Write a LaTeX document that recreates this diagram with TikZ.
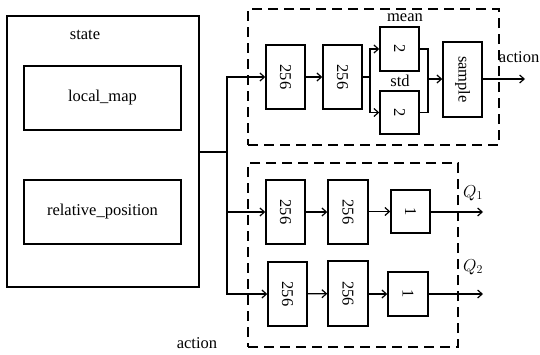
\documentclass[tikz,border=0pt]{standalone}
\usepackage{fontspec}
\setmainfont{Liberation Serif}
\usetikzlibrary{arrows.meta}
\begin{document}
\begin{tikzpicture}[x=1pt,y=-1pt,
  font=\fontsize{16.5}{19}\selectfont,
  blk/.style={draw,line width=1.4pt,inner sep=0pt},
  layer/.style={blk,minimum width=39pt,minimum height=64pt},
  grp/.style={draw,line width=1.5pt,dash pattern=on 10pt off 6pt},
  link/.style={line width=1.2pt},
  arr/.style={link,-{Straight Barb[length=4.5pt,width=8pt]}},
  lbl/.style={inner sep=0pt}]
\useasboundingbox (0,0) rectangle (540,354);

% state input block
\node[blk,minimum width=192pt,minimum height=271pt] (state) at (103,151.5) {};
\node[lbl] (statelbl) at (85,35) {state};
\node[blk,minimum width=157pt,minimum height=64pt] (lmap) at (102.5,98) {local\_map};
\node[blk,minimum width=157pt,minimum height=64pt] (rpos) at (102.5,212) {relative\_position};

% actor group
\node[grp,minimum width=251pt,minimum height=136pt] (actor) at (373.5,77) {};
\node[layer] (a1) at (285.5,77) {\rotatebox{-90}{256}};
\node[layer] (a2) at (342.5,77) {\rotatebox{-90}{256}};
\node[blk,minimum width=39pt,minimum height=44pt] (mean) at (399.5,49) {\rotatebox{-90}{2}};
\node[blk,minimum width=39pt,minimum height=43pt] (std) at (399.5,112.5) {\rotatebox{-90}{2}};
\node[lbl] (meanlbl) at (405,18) {mean};
\node[lbl] (stdlbl) at (400,81) {std};
\node[blk,minimum width=39pt,minimum height=75pt] (sample) at (462.5,79.5) {\rotatebox{-90}{sample}};
\node[lbl,anchor=east] (actlbl) at (539.5,57) {action};

% critic group
\node[grp,minimum width=210pt,minimum height=184pt] (critic) at (353,255) {};
\node[layer] (q1a) at (285.5,212) {\rotatebox{-90}{256}};
\node[layer,minimum width=40pt] (q1b) at (348,212) {\rotatebox{-90}{256}};
\node[blk,minimum width=39pt,minimum height=43pt] (q1c) at (410.5,211.5) {\rotatebox{-90}{1}};
\node[layer] (q2a) at (287.5,294) {\rotatebox{-90}{256}};
\node[layer,minimum width=40pt,minimum height=65pt] (q2b) at (348,293.5) {\rotatebox{-90}{256}};
\node[blk,minimum width=40pt,minimum height=44pt] (q2c) at (408,294) {\rotatebox{-90}{1}};
\node[lbl] (q1lbl) at (473,193) {$Q_1$};
\node[lbl] (q2lbl) at (473,267) {$Q_2$};
\node[lbl] (actin) at (197,343) {action};

% routing points
\coordinate (j) at (227,152);
\coordinate (fork) at (370,77);
\coordinate (merge) at (428,79);
\coordinate (actout) at (525,79);
\coordinate (q1out) at (483,212);
\coordinate (q2out) at (483,294);

% state fan-out
\draw[link] (state.east |- j) -- (j);
\draw[arr] (j) |- (a1.west);
\draw[arr] (j) |- (q1a.west);
\draw[arr] (j) |- (q2a.west);

% actor path
\draw[arr] (a1) -- (a2);
\draw[link] (a2.east |- fork) -- (fork);
\draw[arr] (fork) |- (mean.west);
\draw[arr] (fork) |- (std.west);
\draw[link] (mean.east) -| (merge);
\draw[link] (std.east) -| (merge);
\draw[arr] (merge) -- (sample.west |- merge);
\draw[arr] (sample.east |- actout) -- (actout);

% critic paths
\draw[arr] (q1a) -- (q1b);
\draw[arr] (q1b.east |- q1c) -- (q1c.west);
\draw[arr] (q1c.east |- q1out) -- (q1out);
\draw[arr] (q2a) -- (q2b);
\draw[arr] (q2b.east |- q2c) -- (q2c.west);
\draw[arr] (q2c.east |- q2out) -- (q2out);
\end{tikzpicture}
\end{document}
